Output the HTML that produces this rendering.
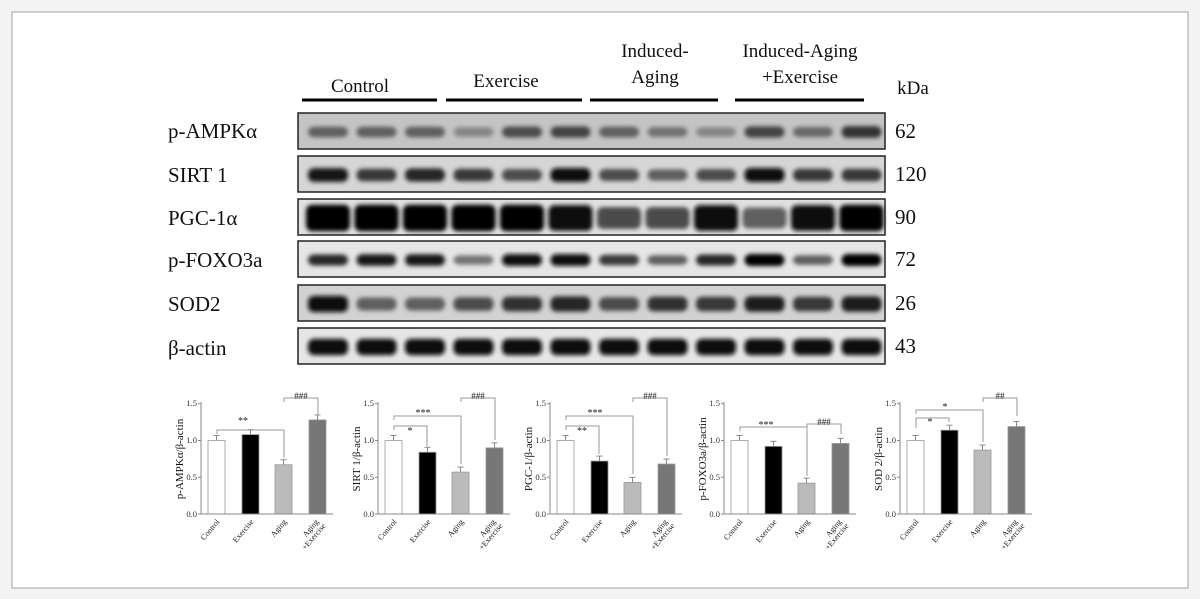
<!DOCTYPE html>
<html><head><meta charset="utf-8"><style>
html,body{margin:0;padding:0;background:#f4f4f4;}
#wrap{position:relative;width:1200px;height:599px;overflow:hidden;}
svg text{font-family:"Liberation Serif",serif;}
</style></head><body><div id="wrap">
<svg id="s" width="1200" height="599" viewBox="0 0 1200 599" xmlns="http://www.w3.org/2000/svg">
<defs>
<filter id="bl" x="-50%" y="-100%" width="200%" height="300%"><feGaussianBlur stdDeviation="2.2"/></filter>
</defs>
<rect x="12" y="12" width="1176" height="576" fill="#fff" stroke="#b0b0b0" stroke-width="1.2"/>
<g font-size="19" fill="#111">
<text x="360" y="92" text-anchor="middle">Control</text>
<text x="506" y="87" text-anchor="middle">Exercise</text>
<text x="655" y="57" text-anchor="middle">Induced-</text>
<text x="655" y="83" text-anchor="middle">Aging</text>
<text x="800" y="57" text-anchor="middle">Induced-Aging</text>
<text x="800" y="83" text-anchor="middle">+Exercise</text>
<text x="913" y="94" text-anchor="middle">kDa</text>
</g>
<g stroke="#000" stroke-width="3">
<line x1="302" y1="100" x2="437" y2="100"/><line x1="446" y1="100" x2="582" y2="100"/>
<line x1="590" y1="100" x2="718" y2="100"/><line x1="735" y1="100" x2="864" y2="100"/>
</g>
<g id="blots"></g>
<g font-size="21" fill="#111">
<text x="168" y="138">p-AMPKα</text>
<text x="168" y="182">SIRT 1</text>
<text x="168" y="225">PGC-1α</text>
<text x="168" y="267">p-FOXO3a</text>
<text x="168" y="311">SOD2</text>
<text x="168" y="355">β-actin</text>
<text x="895" y="138">62</text>
<text x="895" y="181">120</text>
<text x="895" y="224">90</text>
<text x="895" y="266">72</text>
<text x="895" y="310">26</text>
<text x="895" y="353">43</text>
</g>
<g id="charts"></g>
<g font-size="8.5" fill="#333">
<g transform="translate(201,514)">
<text x="-4" y="3" text-anchor="end">0.0</text><text x="-4" y="-34" text-anchor="end">0.5</text><text x="-4" y="-71" text-anchor="end">1.0</text><text x="-4" y="-108" text-anchor="end">1.5</text>
<text transform="translate(-18,-55) rotate(-90)" text-anchor="middle" font-size="11" fill="#111">p-AMPKα/β-actin</text>
<text x="42" y="-90" text-anchor="middle" font-size="10" fill="#222">**</text><text x="100" y="-115" text-anchor="middle" font-size="9" fill="#222">###</text>
</g>
<g transform="translate(378,514)">
<text x="-4" y="3" text-anchor="end">0.0</text><text x="-4" y="-34" text-anchor="end">0.5</text><text x="-4" y="-71" text-anchor="end">1.0</text><text x="-4" y="-108" text-anchor="end">1.5</text>
<text transform="translate(-18,-55) rotate(-90)" text-anchor="middle" font-size="11" fill="#111">SIRT 1/β-actin</text>
<text x="32" y="-80" text-anchor="middle" font-size="10" fill="#222">*</text><text x="45" y="-98" text-anchor="middle" font-size="10" fill="#222">***</text><text x="100" y="-115" text-anchor="middle" font-size="9" fill="#222">###</text>
</g>
<g transform="translate(550,514)">
<text x="-4" y="3" text-anchor="end">0.0</text><text x="-4" y="-34" text-anchor="end">0.5</text><text x="-4" y="-71" text-anchor="end">1.0</text><text x="-4" y="-108" text-anchor="end">1.5</text>
<text transform="translate(-18,-55) rotate(-90)" text-anchor="middle" font-size="11" fill="#111">PGC-1/β-actin</text>
<text x="32" y="-80" text-anchor="middle" font-size="10" fill="#222">**</text><text x="45" y="-98" text-anchor="middle" font-size="10" fill="#222">***</text><text x="100" y="-115" text-anchor="middle" font-size="9" fill="#222">###</text>
</g>
<g transform="translate(724,514)">
<text x="-4" y="3" text-anchor="end">0.0</text><text x="-4" y="-34" text-anchor="end">0.5</text><text x="-4" y="-71" text-anchor="end">1.0</text><text x="-4" y="-108" text-anchor="end">1.5</text>
<text transform="translate(-18,-55) rotate(-90)" text-anchor="middle" font-size="11" fill="#111">p-FOXO3a/β-actin</text>
<text x="42" y="-86" text-anchor="middle" font-size="10" fill="#222">***</text><text x="100" y="-89" text-anchor="middle" font-size="9" fill="#222">###</text>
</g>
<g transform="translate(900,514)">
<text x="-4" y="3" text-anchor="end">0.0</text><text x="-4" y="-34" text-anchor="end">0.5</text><text x="-4" y="-71" text-anchor="end">1.0</text><text x="-4" y="-108" text-anchor="end">1.5</text>
<text transform="translate(-18,-55) rotate(-90)" text-anchor="middle" font-size="11" fill="#111">SOD 2/β-actin</text>
<text x="30" y="-89" text-anchor="middle" font-size="10" fill="#222">*</text><text x="45" y="-104" text-anchor="middle" font-size="10" fill="#222">*</text><text x="100" y="-115" text-anchor="middle" font-size="9" fill="#222">##</text>
</g>
</g>
<g font-size="8" fill="#222">
<g transform="translate(201,514)"><text transform="translate(19,8) rotate(-50)" text-anchor="end">Control</text><text transform="translate(53,8) rotate(-50)" text-anchor="end">Exercise</text><text transform="translate(86,8) rotate(-50)" text-anchor="end">Aging</text><text transform="translate(118,8) rotate(-50)" text-anchor="end">Aging</text><text transform="translate(125,12) rotate(-50)" text-anchor="end">+Exercise</text></g>
<g transform="translate(378,514)"><text transform="translate(19,8) rotate(-50)" text-anchor="end">Control</text><text transform="translate(53,8) rotate(-50)" text-anchor="end">Exercise</text><text transform="translate(86,8) rotate(-50)" text-anchor="end">Aging</text><text transform="translate(118,8) rotate(-50)" text-anchor="end">Aging</text><text transform="translate(125,12) rotate(-50)" text-anchor="end">+Exercise</text></g>
<g transform="translate(550,514)"><text transform="translate(19,8) rotate(-50)" text-anchor="end">Control</text><text transform="translate(53,8) rotate(-50)" text-anchor="end">Exercise</text><text transform="translate(86,8) rotate(-50)" text-anchor="end">Aging</text><text transform="translate(118,8) rotate(-50)" text-anchor="end">Aging</text><text transform="translate(125,12) rotate(-50)" text-anchor="end">+Exercise</text></g>
<g transform="translate(724,514)"><text transform="translate(19,8) rotate(-50)" text-anchor="end">Control</text><text transform="translate(53,8) rotate(-50)" text-anchor="end">Exercise</text><text transform="translate(86,8) rotate(-50)" text-anchor="end">Aging</text><text transform="translate(118,8) rotate(-50)" text-anchor="end">Aging</text><text transform="translate(125,12) rotate(-50)" text-anchor="end">+Exercise</text></g>
<g transform="translate(900,514)"><text transform="translate(19,8) rotate(-50)" text-anchor="end">Control</text><text transform="translate(53,8) rotate(-50)" text-anchor="end">Exercise</text><text transform="translate(86,8) rotate(-50)" text-anchor="end">Aging</text><text transform="translate(118,8) rotate(-50)" text-anchor="end">Aging</text><text transform="translate(125,12) rotate(-50)" text-anchor="end">+Exercise</text></g>
</g>
</svg>
<script>
var NS="http://www.w3.org/2000/svg";
function el(p,t,a){var e=document.createElementNS(NS,t);for(var k in a)e.setAttribute(k,a[k]);p.appendChild(e);return e;}
var B=document.getElementById("blots");
var rows=[113,156,199,241,285,328];
var bg=["#c4c4c4","#d6d6d6","#e0e0e0","#e6e6e6","#d2d2d2","#e6e6e6"];
var I=[[.5,.5,.5,.3,.6,.65,.5,.4,.3,.65,.45,.75],
[.9,.7,.8,.7,.6,.95,.6,.5,.6,.95,.7,.7],
[1,1,1,1,1,.95,.6,.6,.95,.5,.95,1],
[.8,.9,.9,.4,.95,.95,.7,.5,.8,1,.5,1],
[.95,.5,.5,.6,.75,.8,.6,.75,.7,.85,.7,.85],
[.95,.95,.95,.95,.95,.95,.95,.95,.95,.95,.95,.95]];
var HH=[12,13,24,11,15,15];
rows.forEach(function(y,r){
 el(B,"rect",{x:298,y:y,width:587,height:36,fill:bg[r]});
 var g=el(B,"g",{filter:"url(#bl)"});
 for(var i=0;i<12;i++){
  var v=I[r][i],c=Math.round(190*(1-v)),h=HH[r]*(0.65+0.45*v),w=(r==2?44:40);
  el(g,"rect",{x:328+48.5*i-w/2,y:y+19-h/2,width:w,height:h,rx:6,fill:"rgb("+c+","+c+","+c+")"});
 }
 el(B,"rect",{x:298,y:y,width:587,height:36,fill:"none",stroke:"#222","stroke-width":1.5});
});
var C=document.getElementById("charts");
var charts=[[201,[1,1.08,.67,1.28]],[378,[1,.84,.57,.9]],[550,[1,.72,.43,.68]],[724,[1,.92,.42,.96]],[900,[1,1.14,.87,1.19]]];
var fills=["#fff","#000","#bbb","#777"],xs=[7,41,74,108],k=73.5;
var brk=[
 [[16,-80,83,-56],[83,-112,117,-100]],
 [[16,-84,49,-68],[16,-94,83,-50],[83,-112,117,-74]],
 [[16,-84,49,-60],[16,-94,83,-40],[83,-112,117,-58]],
 [[16,-83,83,-38],[83,-86,117,-80]],
 [[16,-86,49,-92],[16,-100,83,-72],[83,-112,117,-98]]];
charts.forEach(function(ch,ci){
 var g=el(C,"g",{transform:"translate("+ch[0]+",514)"});
 ch[1].forEach(function(v,i){
  var h=v*k,cx=xs[i]+8.5;
  el(g,"line",{x1:cx,y1:-h,x2:cx,y2:-h-5,stroke:"#888","stroke-width":1});
  el(g,"line",{x1:cx-3,y1:-h-5,x2:cx+3,y2:-h-5,stroke:"#888","stroke-width":1});
  el(g,"rect",{x:xs[i],y:-h,width:17,height:h,fill:fills[i],stroke:"#999","stroke-width":0.8});
 });
 el(g,"line",{x1:0,y1:0,x2:0,y2:-112,stroke:"#888","stroke-width":1});
 el(g,"line",{x1:0,y1:0,x2:132,y2:0,stroke:"#888","stroke-width":1});
 [0,-36.75,-73.5,-110.25].forEach(function(t){el(g,"line",{x1:-3,y1:t,x2:0,y2:t,stroke:"#888"});});
 brk[ci].forEach(function(b){
  var top=Math.min(b[1],b[3])-4;
  el(g,"polyline",{points:(b[0])+","+b[1]+" "+b[0]+","+top+" "+b[2]+","+top+" "+b[2]+","+b[3],fill:"none",stroke:"#999","stroke-width":1});
 });
});
</script>
</div></body></html>
